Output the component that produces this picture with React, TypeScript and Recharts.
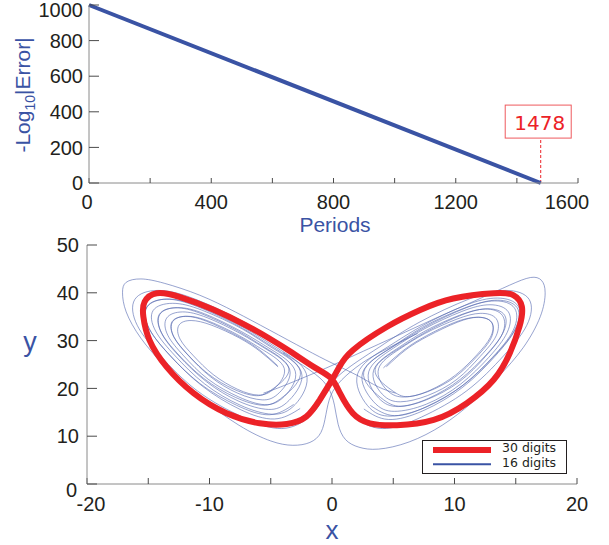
import React from 'react';
import { LineChart, Line, XAxis, YAxis, ReferenceLine, ReferenceDot, Legend, Label } from 'recharts';

const BLUE = '#3a53a4';
const THIN = '#5064ae';
const RED = '#ec2227';
const AX = '#8a8a8a';
const TK = '#4a4a4a';
const INK = '#231f20';
const FONT = '"Liberation Sans", Arial, sans-serif';

// ---- top panel ----
const periods = [0, 1478];
const negLog10Error = [1000, 0];
const periodTicks = [0, 200, 400, 600, 800, 1000, 1200, 1400, 1600];
const errorTicks = [0, 200, 400, 600, 800, 1000];
const crossoverPeriod = 1478;
const crossoverLabel = '1478';

// ---- bottom panel ----
const xTicks = [-20, -15, -10, -5, 0, 5, 10, 15, 20];
const yTicks = [0, 10, 20, 30, 40, 50];

const red30: [number, number][] = [
  [-1.0, 17.6], [-0.16, 21.1], [0.6, 24.5], [1.7, 28.0], [4.5, 32.9], [7.2, 36.4], [9.9, 38.8], [13.2, 39.9],
  [14.8, 39.5], [15.5, 37.1], [15.3, 32.9], [14.5, 27.3], [13.2, 21.8], [11.0, 16.9], [8.3, 13.4], [5.3, 12.3],
  [3.1, 12.7], [1.7, 14.8], [0.65, 19.0], [-0.1, 22.2], [-1.39, 24.35], [-3.27, 27.5], [-5.14, 30.5], [-7.1, 33.3],
  [-9.7, 36.5], [-12.4, 39.1], [-14.3, 39.9], [-15.3, 38.1], [-15.4, 35.0], [-14.9, 30.1], [-13.5, 24.5],
  [-11.3, 19.0], [-8.6, 14.8], [-5.9, 12.7], [-3.7, 12.55], [-2.1, 14.1], [-1.0, 17.6],
];

const blueLeftSpiral: [number, number][] = [
  [-4.4, 24.5], [-5.9, 27.8], [-7.6, 30.6], [-9.8, 33.2], [-11.5, 34.2], [-12.5, 33.2], [-12.4, 30.3], [-11.3, 26.8], [-9.7, 22.9], [-7.7, 19.8], [-6.0, 18.6], [-4.7, 20.0],
  [-3.9, 24.2], [-5.6, 28.0], [-7.55, 31.0], [-10.0, 34.0], [-11.8, 35.1], [-13.0, 34.0], [-12.9, 30.7], [-11.7, 26.8], [-9.9, 22.4], [-7.7, 19.0], [-5.7, 17.6], [-4.3, 19.1],
  [-3.45, 23.9], [-5.3, 28.1], [-7.5, 31.5], [-10.2, 34.8], [-12.2, 36.0], [-13.5, 34.7], [-13.4, 31.1], [-12.1, 26.8], [-10.1, 21.9], [-7.6, 18.2], [-5.5, 16.6], [-3.9, 18.3],
  [-3.0, 23.6], [-5.0, 28.2], [-7.4, 31.9], [-10.4, 35.6], [-12.6, 36.9], [-14.05, 35.5], [-13.9, 31.5], [-12.5, 26.8], [-10.25, 21.4], [-7.6, 17.3], [-5.2, 15.6], [-3.5, 17.5],
  [-2.5, 23.4], [-4.8, 28.35], [-7.3, 32.4], [-10.6, 36.35], [-13.0, 37.8], [-14.6, 36.3], [-14.4, 32.0], [-12.8, 26.8], [-10.4, 20.95], [-7.5, 16.5], [-4.9, 14.6], [-3.0, 16.65],
  [-2.1, 23.1], [-4.5, 28.5], [-7.3, 32.85], [-10.8, 37.1], [-13.4, 38.7], [-15.1, 37.0], [-14.9, 32.4], [-13.2, 26.8], [-10.6, 20.5], [-7.5, 15.6], [-4.7, 13.6], [-2.6, 15.8],
];

const blueLeftSpiral2: [number, number][] = [
  [-4.44, 24.74], [-6.04, 28.31], [-7.88, 31.2], [-10.22, 34.03], [-11.94, 35.07], [-13.05, 33.97], [-12.93, 30.89], [-11.82, 27.2], [-10.1, 23.02], [-8.01, 19.82], [-6.16, 18.47], [-4.81, 19.94],
  [-3.52, 24.18], [-5.48, 28.56], [-7.74, 32.11], [-10.61, 35.58], [-12.73, 36.86], [-14.09, 35.51], [-13.94, 31.73], [-12.58, 27.2], [-10.46, 22.07], [-7.9, 18.14], [-5.63, 16.48], [-3.97, 18.29],
  [-2.59, 23.62], [-4.92, 28.81], [-7.6, 33.02], [-11.01, 37.13], [-13.51, 38.66], [-15.12, 37.05], [-14.94, 32.57], [-13.33, 27.2], [-10.83, 21.11], [-7.78, 16.46], [-5.1, 14.49], [-3.13, 16.64],
];

const blueRightSpiral: [number, number][] = [
  [4.2, 24.3], [5.8, 27.9], [7.7, 31.0], [10.0, 33.8], [11.8, 34.9], [13.0, 33.9], [13.0, 30.6], [11.8, 26.6], [10.0, 22.3], [7.8, 19.3], [5.9, 18.2], [4.5, 19.6],
  [3.8, 24.1], [5.5, 28.2], [7.6, 31.5], [10.2, 34.5], [12.1, 35.7], [13.4, 34.6], [13.4, 31.0], [12.1, 26.7], [10.2, 21.9], [7.8, 18.5], [5.6, 17.2], [4.1, 18.8],
  [3.4, 23.8], [5.3, 28.3], [7.6, 32.0], [10.4, 35.3], [12.5, 36.6], [13.9, 35.3], [13.9, 31.4], [12.5, 26.6], [10.4, 21.4], [7.7, 17.6], [5.4, 16.2], [3.8, 18.0],
  [3.0, 23.5], [5.0, 28.4], [7.5, 32.4], [10.6, 36.1], [12.9, 37.5], [14.4, 36.0], [14.3, 31.7], [12.8, 26.5], [10.5, 20.9], [7.7, 16.7], [5.1, 15.2], [3.4, 17.2],
  [2.5, 23.3], [4.8, 28.5], [7.4, 32.8], [10.8, 36.8], [13.3, 38.3], [14.9, 36.8], [14.8, 32.2], [13.1, 26.5], [10.6, 20.5], [7.6, 16.0], [4.8, 14.2], [2.9, 16.4],
  [2.1, 23.1], [4.5, 28.6], [7.3, 33.0], [10.8, 37.3], [13.5, 38.9], [15.2, 37.2], [15.0, 32.5], [13.3, 26.7], [10.7, 20.3], [7.5, 15.4], [4.6, 13.5], [2.6, 15.7],
];

const blueRightSpiral2: [number, number][] = [
  [4.44, 24.54], [6.04, 28.11], [7.88, 31.0], [10.22, 33.83], [11.94, 34.87], [13.05, 33.77], [12.93, 30.69], [11.82, 27.0], [10.1, 22.82], [8.01, 19.62], [6.16, 18.27], [4.81, 19.74],
  [3.52, 23.98], [5.48, 28.36], [7.74, 31.91], [10.61, 35.38], [12.73, 36.66], [14.09, 35.31], [13.94, 31.53], [12.58, 27.0], [10.46, 21.87], [7.9, 17.94], [5.63, 16.28], [3.97, 18.09],
  [2.59, 23.42], [4.92, 28.61], [7.6, 32.82], [11.01, 36.93], [13.51, 38.46], [15.12, 36.85], [14.94, 32.37], [13.33, 27.0], [10.83, 20.91], [7.78, 16.26], [5.1, 14.29], [3.13, 16.44],
];

const blueFigure: [number, number][] = [
  [3.9, 28.7], [7.1, 33.8], [11.2, 38.7], [14.2, 40.5], [16.1, 38.6], [15.9, 33.2], [14.0, 26.8], [11.0, 19.5],
  [7.3, 14.0], [4.1, 11.6], [1.8, 14.2], [0.6, 18.5], [-0.6, 22.8], [-3.9, 28.7], [-7.1, 33.8], [-11.2, 38.7],
  [-14.2, 40.5], [-16.1, 38.6], [-15.9, 33.2], [-14.0, 26.8], [-11.0, 19.5], [-7.3, 14.0], [-4.1, 11.6],
  [-1.8, 14.2], [-0.6, 18.5], [0.6, 22.8], [3.9, 28.7],
];

const blueOuterLeft: [number, number][] = [
  [5.2, 19.0], [3.8, 20.3], [2.0, 22.8], [0, 25.3], [-2.2, 28.2], [-5.1, 32.2], [-7.9, 36.0],
  [-10.8, 39.5], [-13.7, 42.0], [-15.6, 42.9], [-16.8, 42.2], [-17.1, 40.0], [-16.8, 36.0], [-15.6, 30.5],
  [-13.6, 24.6], [-10.8, 18.2], [-7.6, 12.3], [-5.0, 9.0], [-3.2, 8.1], [-1.8, 8.7], [-0.9, 10.8],
  [-0.5, 14.5], [-0.1, 18.5], [0.8, 21.8], [2.4, 25.2], [4.4, 28.2], [7.0, 31.5],
];

const blueOuterRight: [number, number][] = [
  [-5.6, 19.0], [-4.2, 20.3], [-2.0, 22.6], [0, 24.8], [3.0, 28.3], [6.0, 31.8], [9.0, 35.3],
  [12.0, 38.7], [14.5, 41.6], [16.2, 43.2], [17.1, 42.6], [17.4, 40.0], [17.0, 35.0], [15.6, 28.5],
  [13.6, 22.5], [11.4, 17.0], [9.0, 12.3], [6.3, 8.8], [3.8, 7.3], [2.2, 7.7], [1.1, 9.3], [0.5, 12.5],
  [0.2, 16.5], [-0.4, 20.5], [-1.8, 23.8], [-4.0, 27.5],
];

const toXY = (pts: [number, number][]) => pts.map(([x, y]) => ({ x, y }));
const topData = periods.map((p, i) => ({ p, v: negLog10Error[i] }));
const blueSeries = [blueLeftSpiral, blueLeftSpiral2, blueRightSpiral, blueRightSpiral2, blueFigure, blueOuterLeft, blueOuterRight];

const Empty = () => <g />;

const TopXTick = (props: any) => {
  const { x, y, payload } = props;
  const v = payload.value;
  if (v % 400 !== 0) return <g />;
  const shift = v === 1600 ? -11 : v === 0 ? -2 : 0;
  return (
    <text x={x + shift} y={y} dy="0.71em" textAnchor="middle" fontSize={20} fontFamily={FONT} fill={INK}>{v}</text>
  );
};
const TopYTick = (props: any) => {
  const { x, y, payload } = props;
  const v = payload.value;
  return (
    <text x={x} y={y + (v === 1000 ? 5 : 0)} dy="0.355em" textAnchor="end" fontSize={20} fontFamily={FONT} fill={INK}>{v}</text>
  );
};
const BotXTick = (props: any) => {
  const { x, y, payload } = props;
  const v = payload.value;
  if (v % 10 !== 0) return <g />;
  const shift = v === -20 ? 4 : 0;
  return (
    <text x={x + shift} y={y} dy="0.71em" textAnchor="middle" fontSize={20} fontFamily={FONT} fill={INK}>{v}</text>
  );
};
const BotYTick = (props: any) => {
  const { x, y, payload } = props;
  const v = payload.value;
  return (
    <text x={x - (v === 0 ? 2 : 0)} y={y + (v === 0 ? 6 : 0)} dy="0.355em" textAnchor="end" fontSize={20} fontFamily={FONT} fill={INK}>{v}</text>
  );
};

const LEGEND_FONT = '"DejaVu Sans", sans-serif';
const LegendBox = () => (
  <svg width={155} height={46} style={{ display: 'block' }}>
    <g transform="translate(5,6)">
      <rect x={0.5} y={0.5} width={144} height={33} fill="#fff" stroke={INK} strokeWidth={1} />
      <line x1={11} x2={69} y1={10} y2={10} stroke={RED} strokeWidth={6} />
      <line x1={11} x2={69} y1={24.3} y2={24.3} stroke={BLUE} strokeWidth={2} />
      <text x={80} y={12.4} fontSize={12.5} fontFamily={LEGEND_FONT} fill={INK}>30 digits</text>
      <text x={80} y={27.0} fontSize={12.5} fontFamily={LEGEND_FONT} fill={INK}>16 digits</text>
    </g>
  </svg>
);

export default function App() {
  return (
    <div style={{ position: 'absolute', left: 0, top: 0, width: 609, height: 545, background: '#fff' }}>
      <div style={{ position: 'absolute', left: 0, top: 0 }}>
        <LineChart width={609} height={240} data={topData} margin={{ top: 5, right: 31, bottom: 0, left: 0 }}>
          <XAxis dataKey="p" type="number" domain={[0, 1600]} ticks={periodTicks} interval={0} height={57}
            tickSize={-5} tickMargin={17} tick={TopXTick} axisLine={{ stroke: AX }} tickLine={{ stroke: TK }}>
            <Label content={() => (
              <text x={335} y={232} textAnchor="middle" fontSize={21} fontFamily={FONT} fill={BLUE}>Periods</text>
            )} />
          </XAxis>
          <YAxis type="number" domain={[0, 1000]} ticks={errorTicks} interval={0} width={89}
            tickSize={-10} tickMargin={16} tick={TopYTick} axisLine={{ stroke: AX }} tickLine={{ stroke: TK }}>
            <Label content={() => (
              <text x={30} y={95} transform="rotate(-90, 30, 95)" textAnchor="middle" fontSize={21} fontFamily={FONT} fill={BLUE}>
                -Log<tspan dy={5} fontSize={14}>10</tspan><tspan dy={-5}>|Error|</tspan>
              </text>
            )} />
          </YAxis>
          <YAxis yAxisId="r" orientation="right" type="number" domain={[0, 1000]} ticks={errorTicks} interval={0}
            width={0} tickSize={-10} tick={Empty} axisLine={{ stroke: AX }} tickLine={{ stroke: TK }} />
          <ReferenceLine segment={[{ x: crossoverPeriod, y: 0 }, { x: crossoverPeriod, y: 252 }]}
            stroke={RED} strokeWidth={1} strokeDasharray="3 2" />
          <Line dataKey="v" type="linear" stroke={BLUE} strokeWidth={4} dot={false} isAnimationActive={false} />
          <ReferenceDot x={crossoverPeriod} y={345} shape={(p: any) => (
            <g>
              <rect x={p.cx - 35.5} y={p.cy - 16.5} width={66} height={33} fill="#fff" stroke="#ee5a5e" strokeWidth={1} />
              <text x={p.cx - 1} y={p.cy + 8.5} textAnchor="middle" fontSize={20} fontFamily='"DejaVu Sans", sans-serif' fill={RED}>{crossoverLabel}</text>
            </g>
          )} />
        </LineChart>
      </div>
      <div style={{ position: 'absolute', left: 0, top: 230 }}>
        <LineChart width={609} height={315} margin={{ top: 15, right: 32, bottom: 0, left: 0 }}>
          <XAxis dataKey="x" type="number" domain={[-20, 20]} ticks={xTicks} interval={0} height={61}
            tickSize={-6} tickMargin={19} tick={BotXTick} axisLine={{ stroke: AX }} tickLine={{ stroke: TK }} allowDataOverflow>
            <Label content={() => (
              <text x={332} y={309} textAnchor="middle" fontSize={26} fontFamily={FONT} fill={BLUE}>x</text>
            )} />
          </XAxis>
          <XAxis xAxisId="t" orientation="top" type="number" domain={[-20, 20]} ticks={xTicks} interval={0} height={0}
            tickSize={-5} tick={Empty} axisLine={{ stroke: AX }} tickLine={{ stroke: TK }} allowDataOverflow />
          <YAxis type="number" domain={[0, 50]} ticks={yTicks} interval={0} width={87}
            tickSize={-10} tickMargin={18} tick={BotYTick} axisLine={{ stroke: AX }} tickLine={{ stroke: TK }} allowDataOverflow>
            <Label content={() => (
              <text x={30} y={121} textAnchor="middle" fontSize={27} fontFamily={FONT} fill={BLUE}>y</text>
            )} />
          </YAxis>
          <YAxis yAxisId="r" orientation="right" type="number" domain={[0, 50]} ticks={yTicks} interval={0}
            width={0} tickSize={-10} tick={Empty} axisLine={{ stroke: AX }} tickLine={{ stroke: TK }} allowDataOverflow />
          {blueSeries.map((s, i) => (
            <Line key={i} data={toXY(s)} dataKey="y" type="natural" stroke={THIN} strokeWidth={0.8}
              strokeOpacity={0.75} dot={false} isAnimationActive={false} legendType="none" />
          ))}
          <Line data={toXY(red30)} dataKey="y" type="natural" stroke={RED} strokeWidth={6} dot={false}
            isAnimationActive={false} />
          <Legend layout="vertical" align="center" verticalAlign="middle"
            wrapperStyle={{ left: 417, top: 204, width: 155, height: 46 }} content={() => <LegendBox />} />
        </LineChart>
      </div>
    </div>
  );
}
